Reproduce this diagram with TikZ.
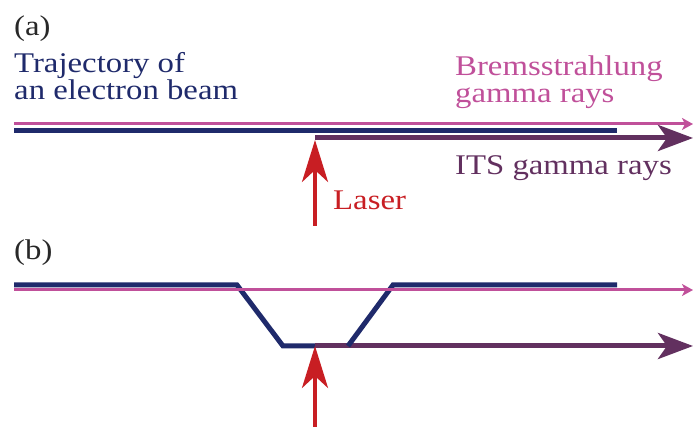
\documentclass[tikz,border=0pt]{standalone}
\usepackage{fontspec}
\setmainfont[FakeStretch=1.15]{Liberation Serif}
\usetikzlibrary{arrows.meta}
\definecolor{beamblue}{RGB}{31,42,107}
\definecolor{bremspink}{RGB}{192,80,154}
\definecolor{itspurple}{RGB}{98,48,95}
\definecolor{laserred}{RGB}{200,30,35}
\definecolor{labelgray}{RGB}{40,40,40}
\begin{document}
\begin{tikzpicture}[x=1pt, y=-1pt,
    lbl/.style={font=\fontsize{28.5}{27}\selectfont, inner sep=0pt, anchor=base west, align=left},
    beam/.style={beamblue, line width=5pt},
    brems/.style={bremspink, line width=3pt, -{Stealth[length=11pt, width=12pt, inset=3pt]}},
    its/.style={itspurple, line width=5pt, -{Stealth[length=35pt, width=26pt, inset=9pt]}},
    laser/.style={laserred, line width=4pt, -{Stealth[length=42pt, width=26pt, inset=12pt]}}]
    \useasboundingbox (0,0) rectangle (694,427);

    % Panel (a)
    \node[lbl, labelgray] (tagA) at (14,36) {(a)};
    \node[lbl, beamblue] (beamA) at (14,100) {Trajectory of\\an electron beam};
    \node[lbl, bremspink] (bremsA) at (455,103) {Bremsstrahlung\\gamma rays};
    \node[lbl, itspurple] (itsA) at (455,175) {ITS gamma rays};
    \node[lbl, laserred] (laserA) at (333,210) {Laser};

    \coordinate (pinkA0) at (14,124);
    \coordinate (pinkA1) at (693,124);
    \coordinate (navyA0) at (14,130.5);
    \coordinate (navyA1) at (617,130.5);
    \coordinate (itsA0) at (315,138);
    \coordinate (itsA1) at (693,138);
    \coordinate (laserA0) at (315,226);
    \coordinate (laserA1) at (315,140);

    \draw[brems] (pinkA0) -- (pinkA1);
    \draw[beam] (navyA0) -- (navyA1);
    \draw[its] (itsA0) -- (itsA1);
    \draw[laser] (laserA0) -- (laserA1);

    % Panel (b)
    \node[lbl, labelgray] (tagB) at (14,260) {(b)};

    \coordinate (navyB0) at (14,285);
    \coordinate (navyB1) at (237,285);
    \coordinate (navyB2) at (283,346);
    \coordinate (navyB3) at (315,346);
    \coordinate (navyB4) at (348,346);
    \coordinate (navyB5) at (393,285);
    \coordinate (navyB6) at (617,285);
    \coordinate (pinkB0) at (14,290);
    \coordinate (pinkB1) at (693,290);
    \coordinate (itsB1) at (693,346);
    \coordinate (laserB0) at (315,430);

    % Bent trajectory
    \draw[beam] (navyB0) -- (navyB1) -- (navyB2) -- (navyB3);
    \draw[its] (navyB3) -- (itsB1);
    \draw[beam] (navyB4) -- (navyB5) -- (navyB6);
    \draw[brems] (pinkB0) -- (pinkB1);
    \draw[laser] (laserB0) -- (navyB3);
\end{tikzpicture}
\end{document}
